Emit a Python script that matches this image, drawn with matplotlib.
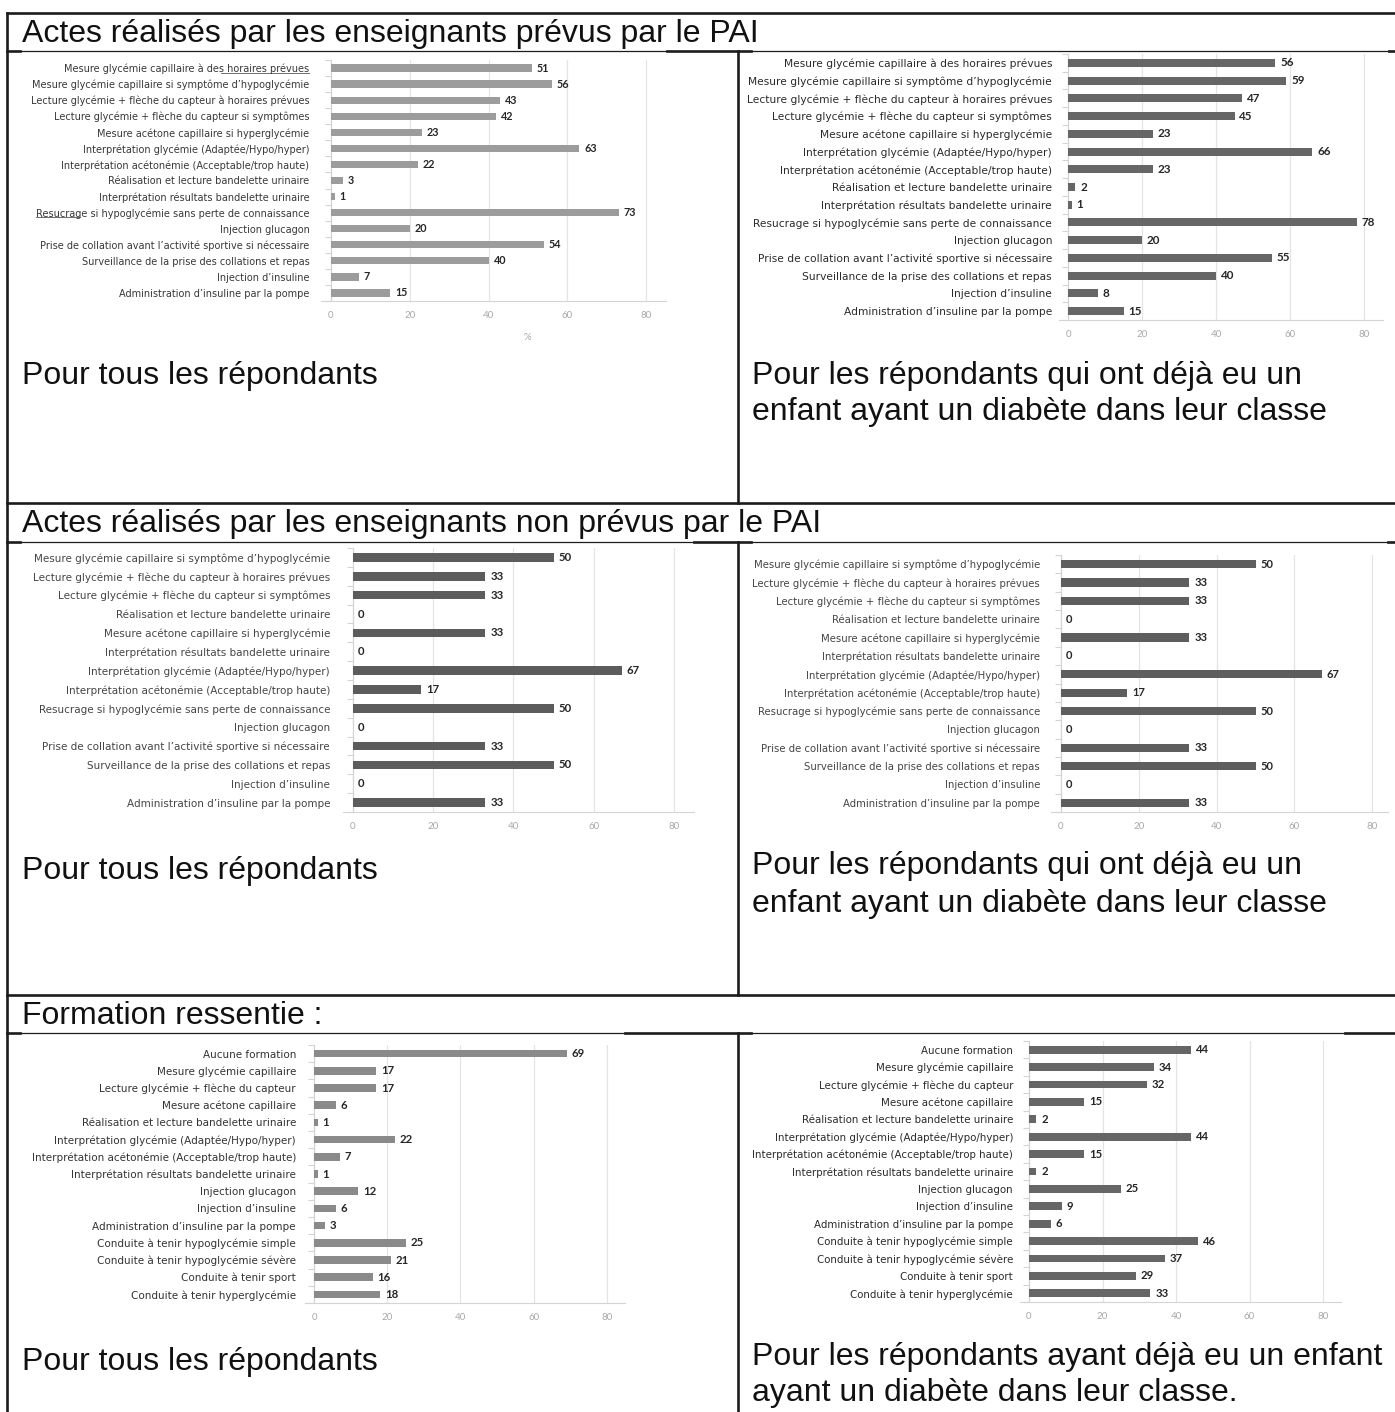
import numpy as np
import matplotlib.pyplot as plt
from matplotlib import font_manager
from matplotlib.transforms import Bbox, TransformedBbox

W, H = 1395, 1412

prevus_labels = [
    "Mesure glycémie capillaire à des horaires prévues",
    "Mesure glycémie capillaire si symptôme d’hypoglycémie",
    "Lecture glycémie + flèche du capteur à horaires prévues",
    "Lecture glycémie + flèche du capteur si symptômes",
    "Mesure acétone capillaire si hyperglycémie",
    "Interprétation glycémie (Adaptée/Hypo/hyper)",
    "Interprétation acétonémie (Acceptable/trop haute)",
    "Réalisation et lecture bandelette urinaire",
    "Interprétation résultats bandelette urinaire",
    "Resucrage si hypoglycémie sans perte de connaissance",
    "Injection glucagon",
    "Prise de collation avant l’activité sportive si nécessaire",
    "Surveillance de la prise des collations et repas",
    "Injection d’insuline",
    "Administration d’insuline par la pompe",
]
prevus_tous = [51, 56, 43, 42, 23, 63, 22, 3, 1, 73, 20, 54, 40, 7, 15]
prevus_classe = [56, 59, 47, 45, 23, 66, 23, 2, 1, 78, 20, 55, 40, 8, 15]

non_prevus_labels = [
    "Mesure glycémie capillaire si symptôme d’hypoglycémie",
    "Lecture glycémie + flèche du capteur à horaires prévues",
    "Lecture glycémie + flèche du capteur si symptômes",
    "Réalisation et lecture bandelette urinaire",
    "Mesure acétone capillaire si hyperglycémie",
    "Interprétation résultats bandelette urinaire",
    "Interprétation glycémie (Adaptée/Hypo/hyper)",
    "Interprétation acétonémie (Acceptable/trop haute)",
    "Resucrage si hypoglycémie sans perte de connaissance",
    "Injection glucagon",
    "Prise de collation avant l’activité sportive si nécessaire",
    "Surveillance de la prise des collations et repas",
    "Injection d’insuline",
    "Administration d’insuline par la pompe",
]
non_prevus_tous = [50, 33, 33, 0, 33, 0, 67, 17, 50, 0, 33, 50, 0, 33]
non_prevus_classe = [50, 33, 33, 0, 33, 0, 67, 17, 50, 0, 33, 50, 0, 33]

formation_labels = [
    "Aucune formation",
    "Mesure glycémie capillaire",
    "Lecture glycémie + flèche du capteur",
    "Mesure acétone capillaire",
    "Réalisation et lecture bandelette urinaire",
    "Interprétation glycémie (Adaptée/Hypo/hyper)",
    "Interprétation acétonémie (Acceptable/trop haute)",
    "Interprétation résultats bandelette urinaire",
    "Injection glucagon",
    "Injection d’insuline",
    "Administration d’insuline par la pompe",
    "Conduite à tenir hypoglycémie simple",
    "Conduite à tenir hypoglycémie sévère",
    "Conduite à tenir sport",
    "Conduite à tenir hyperglycémie",
]
formation_tous = [69, 17, 17, 6, 1, 22, 7, 1, 12, 6, 3, 25, 21, 16, 18]
formation_classe = [44, 34, 32, 15, 2, 44, 15, 2, 25, 9, 6, 46, 37, 29, 33]

x_ticks = [0, 20, 40, 60, 80]

section_titles = [
    "Actes réalisés par les enseignants prévus par le PAI",
    "Actes réalisés par les enseignants non prévus par le PAI",
    "Formation ressentie :",
]
caption_tous = "Pour tous les répondants"
caption_classe = ["Pour les répondants qui ont déjà eu un",
                  "enfant ayant un diabète dans leur classe"]
caption_classe_formation = ["Pour les répondants ayant déjà eu un enfant",
                            "ayant un diabète dans leur classe."]

installed = {f.name for f in font_manager.fontManager.ttflist}
CHART_FONT = [f for f in ["Lato", "DejaVu Sans"] if f in installed]
TABLE_FONT = ["Liberation Sans", "DejaVu Sans"]
LINE = "#1c1c1c"

fig = plt.figure(figsize=(W / 100, H / 100), dpi=100)


def bar_panel(labels, values, x0, ppu, top, bot, bar_color, text_color,
              label_size, pad, xmax=85):
    # x0: pixel of value 0, ppu: pixels per unit of the x axis
    left = x0 - 2.5 * ppu
    right = x0 + xmax * ppu
    ax = fig.add_axes([left / W, 1 - bot / H, (right - left) / W, (bot - top) / H])
    ax.set_facecolor("none")
    y = np.arange(len(labels))
    ax.barh(y, values, height=0.45, color=bar_color, zorder=3)
    ax.set_xlim(-2.5, xmax)
    ax.set_ylim(len(labels) - 0.5, -0.5)
    ax.tick_params(axis="y", which="major", length=0, pad=pad,
                   labelsize=label_size, labelcolor=text_color)
    ax.tick_params(axis="y", which="minor", length=4, color="#d4d4d4", width=0.8)
    ax.tick_params(axis="x", length=0, labelsize=7, labelcolor="#a8a8a8", pad=7)
    ax.set_xticks(x_ticks)
    ax.set_xticklabels([str(t) for t in x_ticks], family=CHART_FONT)
    ax.set_yticks(y)
    ax.set_yticklabels(labels, family=CHART_FONT)
    ax.set_yticks(np.arange(len(labels) + 1) - 0.5, minor=True)
    ax.grid(axis="x", color="#e4e4e4", lw=0.9, zorder=0)
    for s in ["top", "right"]:
        ax.spines[s].set_visible(False)
    ax.spines["left"].set_position(("data", 0))
    ax.spines["left"].set_color("#d4d4d4")
    ax.spines["bottom"].set_color("#d4d4d4")
    for yi, v in zip(y, values):
        ax.annotate(str(v), (v, yi), xytext=(3.5, 0), textcoords="offset points",
                    va="center", ha="left", fontsize=label_size * 1.1, fontweight="bold",
                    color="#262626", family=CHART_FONT)
    return ax


# table frame and texts drawn in pixel coordinates
ov = fig.add_axes([0, 0, 1, 1], zorder=-1)
ov.set_xlim(0, W)
ov.set_ylim(H, 0)
ov.axis("off")

thick, thin = 1.9, 0.9
ov.plot([7, W], [12.5, 12.5], color=LINE, lw=thick)
ov.plot([7, W], [503, 503], color=LINE, lw=thick)
ov.plot([7, W], [995, 995], color=LINE, lw=thick)
ov.plot([7, 7], [12.5, H], color=LINE, lw=thick)
for y0, y1 in [(51, 503), (542, 995), (1033, H)]:
    ov.plot([738, 738], [y0, y1], color=LINE, lw=thick)

header_lines = [(51, (20, 667), (751, 1389)),
                (542, (20, 694), (751, 1388)),
                (1033, (20, 625), (751, 1345))]
for yb, (l0, l1), (r0, r1) in header_lines:
    for a, b in [(7, l0), (l1, r0), (r1, W)]:
        ov.plot([a, b], [yb, yb], color=LINE, lw=thick)
    for a, b in [(l0, l1), (r0, r1)]:
        ov.plot([a, b], [yb, yb], color=LINE, lw=thin)

for title, yt in zip(section_titles, [34, 524, 1016]):
    ov.text(22, yt, title, fontsize=23, va="center", ha="left", family=TABLE_FONT, color="#111111")

for yc in [376, 871, 1362]:
    ov.text(22, yc, caption_tous, fontsize=23, va="center", ha="left", family=TABLE_FONT, color="#111111")
for lines, ys in [(caption_classe, (376, 412)), (caption_classe, (866, 904)),
                  (caption_classe_formation, (1357, 1393))]:
    for line, yc in zip(lines, ys):
        ov.text(752, yc, line, fontsize=23, va="center", ha="left", family=TABLE_FONT, color="#111111")

ov.text(527, 337, "%", fontsize=7, color="#a8a8a8", ha="center", va="center", family=CHART_FONT)

ax1 = bar_panel(prevus_labels, prevus_tous, 331, 3.94, 60, 301, "#9c9c9c", "#383838", 7.05, 15.5)
bar_panel(prevus_labels, prevus_classe, 1068, 3.70, 54, 320, "#666666", "#2a2a2a", 7.65, 11.5)
bar_panel(non_prevus_labels, non_prevus_tous, 353, 4.01, 548, 812, "#5c5c5c", "#454545", 7.45, 16.5)
bar_panel(non_prevus_labels, non_prevus_classe, 1061, 3.89, 555, 812, "#5e5e5e", "#454545", 7.3, 15, xmax=84)
bar_panel(formation_labels, formation_tous, 314, 3.66, 1045, 1303, "#8a8a8a", "#333333", 7.45, 13)
ax6 = bar_panel(formation_labels, formation_classe, 1029, 3.675, 1041, 1302, "#666666", "#2a2a2a", 7.4, 11.5)

# the right-hand chart of the last row is cut at its left edge
clip = TransformedBbox(Bbox.from_extents(751 / W, 0, 1, 1), fig.transFigure)
for lab in ax6.get_yticklabels():
    lab.set_clip_box(clip)
    lab.set_clip_on(True)

# underlined words in two labels of the first chart
fig.canvas.draw()
renderer = fig.canvas.get_renderer()
for label, part, at_end in [(prevus_labels[0], "des horaires prévues", True),
                            (prevus_labels[9], "Resucrage", False)]:
    lab = next(t for t in ax1.get_yticklabels() if t.get_text() == label)
    bb = lab.get_window_extent(renderer)
    probe = fig.text(0, 0, part, fontsize=lab.get_fontsize(), family=CHART_FONT)
    w = probe.get_window_extent(renderer).width
    probe.remove()
    xa = bb.x1 - w if at_end else bb.x0
    ov.plot([xa, xa + w], [H - bb.y0 - 1.5] * 2, color="#555555", lw=0.6)

fig.savefig("out.png", dpi=100, facecolor="white")
